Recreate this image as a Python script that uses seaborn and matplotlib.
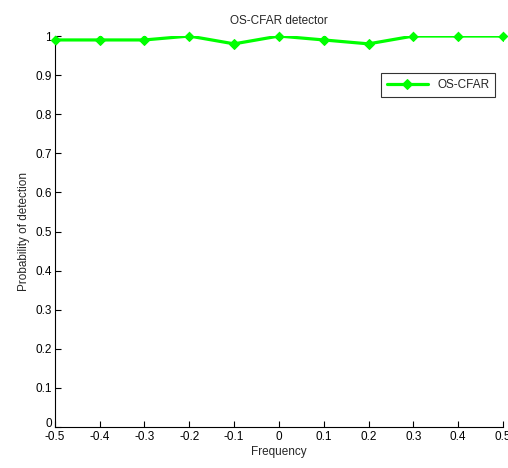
import pandas as pd
import numpy as np
import matplotlib
matplotlib.use('Agg')
import matplotlib.pyplot as plt
import matplotlib.transforms as mtransforms
import seaborn as sns

# data
freq = [-0.5, -0.4, -0.3, -0.2, -0.1, 0.0, 0.1, 0.2, 0.3, 0.4, 0.5]
pd_os_cfar = [0.99, 0.99, 0.99, 1.0, 0.98, 1.0, 0.99, 0.98, 1.0, 1.0, 1.0]
xtick_vals = [-0.5, -0.4, -0.3, -0.2, -0.1, 0, 0.1, 0.2, 0.3, 0.4, 0.5]
xtick_labels = ['-0.5', '-0.4', '-0.3', '-0.2', '-0.1', '0', '0.1', '0.2', '0.3', '0.4', '0.5']
ytick_vals = [0, 0.1, 0.2, 0.3, 0.4, 0.5, 0.6, 0.7, 0.8, 0.9, 1]
ytick_labels = ['0', '0.1', '0.2', '0.3', '0.4', '0.5', '0.6', '0.7', '0.8', '0.9', '1']

df = pd.DataFrame({'Frequency': freq, 'Pd': pd_os_cfar, 'method': 'OS-CFAR'})

sns.set_style('white')
plt.rcParams['font.family'] = ['Liberation Sans', 'DejaVu Sans']
plt.rcParams['font.size'] = 8.5

fig = plt.figure(figsize=(5.08, 4.68), dpi=100)
ax = fig.add_axes([0.108, 0.0876, 0.882, 0.8354])

# line is clipped at the axes, markers are not (MATLAB look)
sns.lineplot(data=df, x='Frequency', y='Pd', hue='method', palette=['#00ff00'],
             marker='D', markersize=5, markeredgecolor='#00ff00', linewidth=2.3,
             ax=ax)
sns.scatterplot(data=df, x='Frequency', y='Pd', color='#00ff00', marker='D',
                s=25, edgecolor='#00ff00', linewidth=0, clip_on=False,
                legend=False, zorder=3, ax=ax)

ax.set_xlim(-0.5, 0.5)
ax.set_ylim(0, 1)
ax.set_xticks(xtick_vals)
ax.set_xticklabels(xtick_labels)
ax.set_yticks(ytick_vals)
ax.set_yticklabels(ytick_labels)
ax.tick_params(direction='in', length=4, width=0.8, labelsize=8.5,
               bottom=True, left=True, colors='black')
ax.tick_params(axis='x', pad=3)
ax.tick_params(axis='y', pad=2)
for s in ['top', 'right']:
    ax.spines[s].set_visible(False)
for s in ['left', 'bottom']:
    ax.spines[s].set_color('black')
    ax.spines[s].set_linewidth(0.8)

# lift the "0" y label a little so it clears "-0.5"
zero_lbl = ax.get_yticklabels()[0]
zero_lbl.set_transform(zero_lbl.get_transform() +
                       mtransforms.ScaledTranslation(0, 3 / 72, fig.dpi_scale_trans))

ax.set_title('OS-CFAR detector', fontsize=8.5, pad=9)
ax.set_xlabel('Frequency', fontsize=8.5, labelpad=2)
ax.set_ylabel('Probability of detection', fontsize=8.5, labelpad=4)

leg = ax.legend(loc='upper left', bbox_to_anchor=(0.714, 0.92), frameon=True,
                fancybox=False, edgecolor='black', fontsize=8.5,
                handlelength=3.5, borderpad=0.5)
leg.get_frame().set_linewidth(0.8)

fig.savefig('out.png', dpi=100)
